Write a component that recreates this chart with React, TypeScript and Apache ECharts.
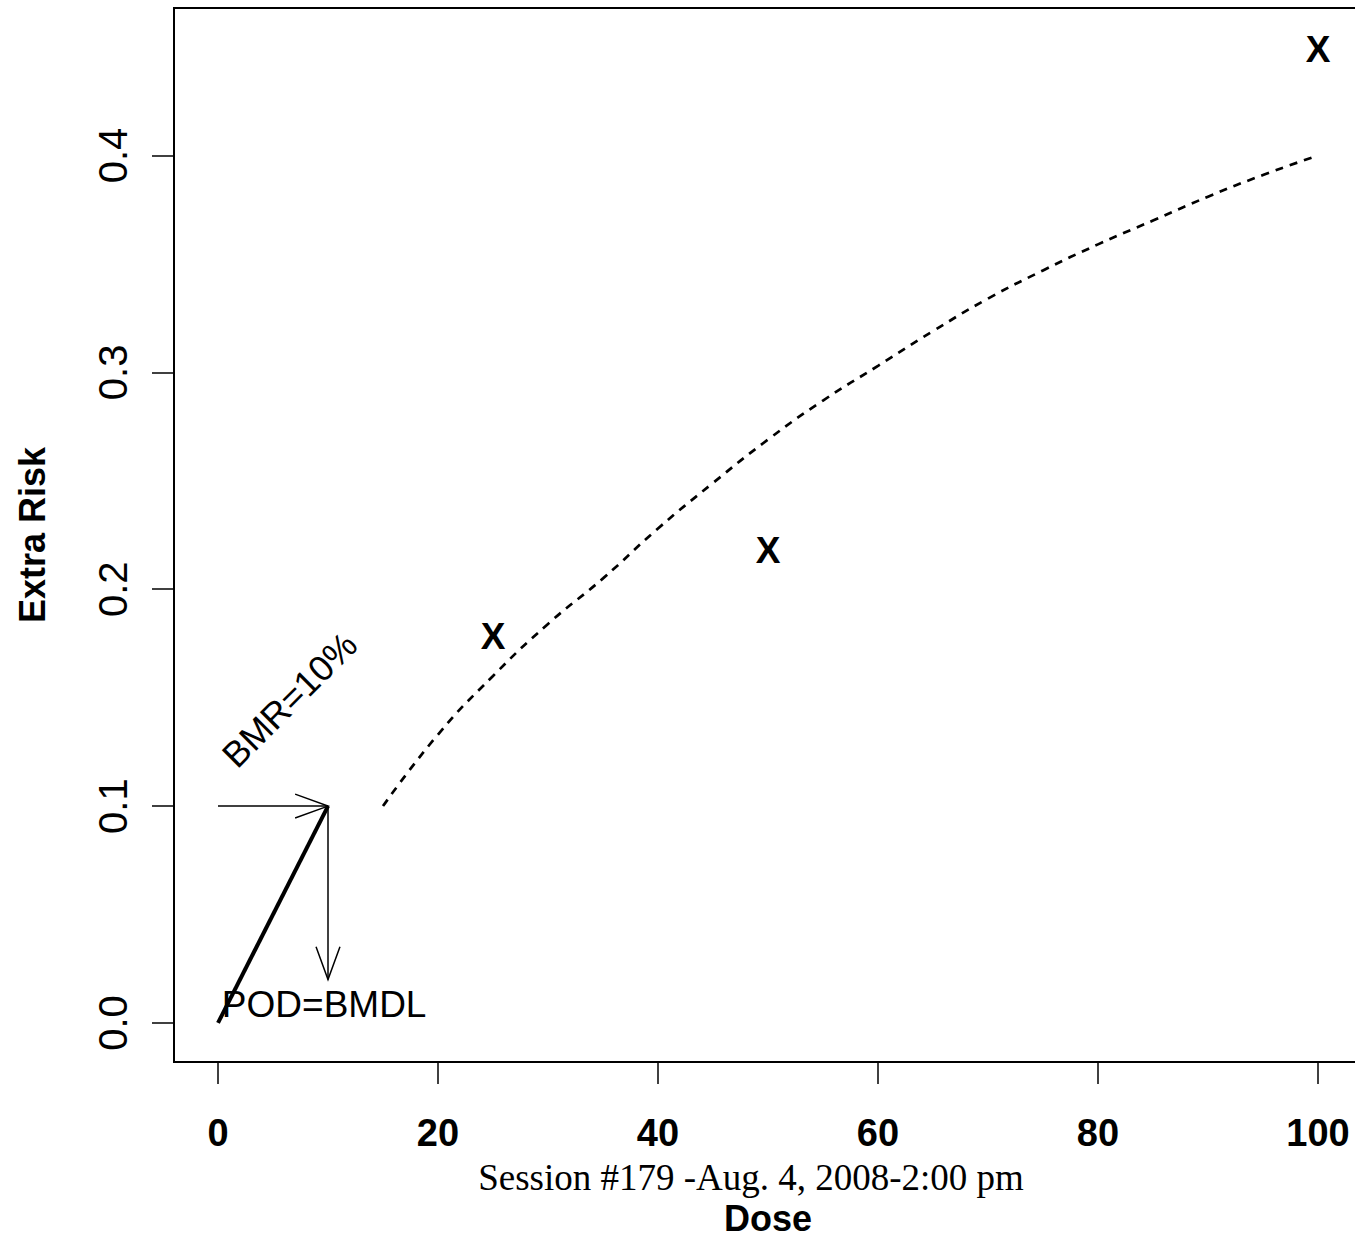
import React, { useEffect, useRef } from "react";
import * as echarts from "echarts";

const doseTicks = [0, 20, 40, 60, 80, 100];
const riskTicks = [0, 0.1, 0.2, 0.3, 0.4];

const obsDose = [25, 50, 100];
const obsRisk = [0.178, 0.218, 0.449];

const curveDose = [15, 20, 25, 30, 35, 40, 45, 50, 55, 60, 65, 70, 75, 80, 85, 90, 95, 100];
const curveRisk = [0.1, 0.133, 0.16, 0.184, 0.205, 0.228, 0.249, 0.269, 0.287, 0.303, 0.319, 0.334, 0.347, 0.359, 0.37, 0.381, 0.391, 0.4];

const bmdlDose = [0, 10];
const bmdlRisk = [0, 0.1];

// arrows: [fromDose, fromRisk, toDose, toRisk]
const arrows = [
  [0, 0.1, 10, 0.1],
  [10, 0.1, 10, 0.02],
];

const annoText = ["BMR=10%", "POD=BMDL"];
const annoDose = [6.5, 0.35];
const annoRisk = [0.149, 0.0083];
const annoAngle = [45, 0];
const annoAlign = ["center", "left"];

const FONT = "'Liberation Sans', Arial, sans-serif";

export default function App() {
  const ref = useRef<HTMLDivElement>(null);

  useEffect(() => {
    if (!ref.current) return;
    const chart = echarts.init(ref.current, undefined, { renderer: "svg" });

    const option: any = {
      animation: false,
      backgroundColor: "#ffffff",
      grid: {
        left: 174,
        right: 18,
        top: 8,
        bottom: 178,
        show: true,
        containLabel: false,
        outerBoundsMode: "none",
        borderColor: "#000",
        borderWidth: 2,
        backgroundColor: "transparent",
      },
      xAxis: {
        type: "value",
        min: -4,
        max: 104,
        name: "Dose",
        nameLocation: "middle",
        nameGap: 138,
        nameTextStyle: { fontFamily: FONT, fontSize: 36, fontWeight: "bold", color: "#000" },
        splitLine: { show: false },
        axisLine: { show: true, onZero: false, lineStyle: { color: "#000", width: 2 } },
        axisTick: { show: true, length: 22, inside: false, customValues: doseTicks, lineStyle: { color: "#000", width: 1.5 } },
        axisLabel: {
          show: true,
          customValues: doseTicks,
          margin: 52,
          fontFamily: FONT,
          fontSize: 38,
          fontWeight: "bold",
          color: "#000",
          formatter: (v: number) => String(v),
        },
      },
      yAxis: {
        type: "value",
        min: -0.018,
        max: 0.468,
        name: "Extra Risk",
        nameLocation: "middle",
        nameGap: 124,
        nameTextStyle: { fontFamily: FONT, fontSize: 36, fontWeight: "bold", color: "#000" },
        splitLine: { show: false },
        axisLine: { show: true, onZero: false, lineStyle: { color: "#000", width: 2 } },
        axisTick: { show: true, length: 22, inside: false, customValues: riskTicks, lineStyle: { color: "#000", width: 1.5 } },
        axisLabel: {
          show: true,
          customValues: riskTicks,
          rotate: 90,
          margin: 41,
          fontFamily: FONT,
          fontSize: 40,
          color: "#000",
          formatter: (v: number) => v.toFixed(1),
        },
      },
      graphic: [
        {
          type: "text",
          x: 751,
          y: 1177,
          style: {
            text: "Session #179 -Aug. 4, 2008-2:00 pm",
            align: "center",
            verticalAlign: "middle",
            fontFamily: "'Liberation Serif', 'Times New Roman', serif",
            fontSize: 37,
            fill: "#000",
          },
        },
      ],
      series: [
        {
          name: "fit",
          type: "line",
          data: curveDose.map((d, i) => [d, curveRisk[i]]),
          smooth: true,
          showSymbol: false,
          symbol: "none",
          lineStyle: { color: "#000", width: 2.7, type: [8, 7] },
          z: 2,
        },
        {
          name: "bmdl",
          type: "line",
          data: bmdlDose.map((d, i) => [d, bmdlRisk[i]]),
          showSymbol: false,
          symbol: "none",
          lineStyle: { color: "#000", width: 4 },
          z: 4,
        },
        {
          name: "arrows",
          type: "custom",
          data: arrows,
          encode: { x: [0, 2], y: [1, 3] },
          renderItem: (params: any, api: any) => {
            const p0 = api.coord([api.value(0), api.value(1)]);
            const p1 = api.coord([api.value(2), api.value(3)]);
            const ang = Math.atan2(p1[1] - p0[1], p1[0] - p0[0]);
            const L = 35;
            const a = (20 * Math.PI) / 180;
            const h1 = [p1[0] - L * Math.cos(ang - a), p1[1] - L * Math.sin(ang - a)];
            const h2 = [p1[0] - L * Math.cos(ang + a), p1[1] - L * Math.sin(ang + a)];
            return {
              type: "group",
              children: [
                {
                  type: "line",
                  shape: { x1: p0[0], y1: p0[1], x2: p1[0], y2: p1[1] },
                  style: { stroke: "#000", lineWidth: 1.5 },
                },
                {
                  type: "polyline",
                  shape: { points: [h1, p1, h2] },
                  style: { stroke: "#000", fill: null, lineWidth: 1.5 },
                },
              ],
            };
          },
          z: 3,
        },
        {
          name: "observed",
          type: "custom",
          data: obsDose.map((d, i) => [d, obsRisk[i]]),
          encode: { x: 0, y: 1 },
          renderItem: (params: any, api: any) => {
            const p = api.coord([api.value(0), api.value(1)]);
            return {
              type: "text",
              x: p[0],
              y: p[1],
              style: {
                text: "X",
                align: "center",
                verticalAlign: "middle",
                fontFamily: FONT,
                fontSize: 37,
                fontWeight: "bold",
                fill: "#000",
              },
            };
          },
          z: 5,
        },
        {
          name: "annotations",
          type: "custom",
          data: annoDose.map((d, i) => [d, annoRisk[i]]),
          encode: { x: 0, y: 1 },
          renderItem: (params: any, api: any) => {
            const i = params.dataIndex;
            const p = api.coord([api.value(0), api.value(1)]);
            return {
              type: "text",
              x: p[0],
              y: p[1],
              rotation: (annoAngle[i] * Math.PI) / 180,
              style: {
                text: annoText[i],
                align: annoAlign[i],
                verticalAlign: "middle",
                fontFamily: FONT,
                fontSize: i === 0 ? 36 : 37,
                fill: "#000",
              },
            };
          },
          z: 3,
        },
      ],
    };

    chart.setOption(option);
    return () => chart.dispose();
  }, []);

  return (
    <div
      style={{
        position: "fixed",
        left: 0,
        top: 0,
        width: 1355,
        height: 1240,
        overflow: "hidden",
        background: "#fff",
      }}
    >
      <div ref={ref} style={{ width: 1380, height: 1240 }} />
    </div>
  );
}
